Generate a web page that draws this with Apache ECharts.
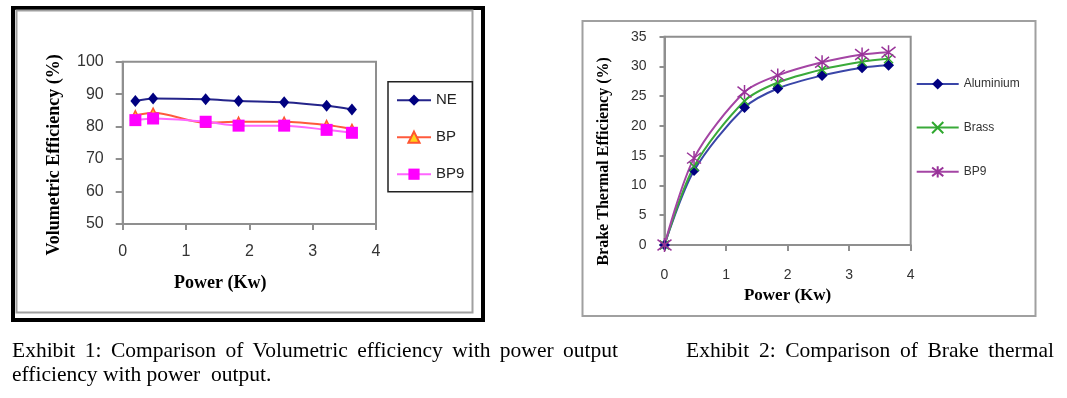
<!DOCTYPE html>
<html><head><meta charset="utf-8">
<script src="https://cdn.jsdelivr.net/npm/echarts@6/dist/echarts.min.js"></script>
<style>
html,body{margin:0;padding:0;background:#fff;}
#wrap{position:relative;width:1067px;height:398px;overflow:hidden;background:#fff;}
#chart{position:absolute;left:0;top:0;width:1067px;height:398px;}
.cap{position:absolute;font-family:"Liberation Serif","Times New Roman",serif;font-size:21.5px;line-height:22px;color:#000;white-space:nowrap;}
.just{text-align:justify;text-align-last:justify;white-space:normal;}
</style></head>
<body>
<div id="wrap">
<div id="chart"></div>
<div class="cap just" style="left:12px;top:339px;width:606px;">Exhibit 1: Comparison of Volumetric efficiency with power output</div>
<div class="cap" style="left:12px;top:363px;">efficiency with power&nbsp; output.</div>
<div class="cap just" style="left:686px;top:339px;width:368px;">Exhibit 2: Comparison of Brake thermal</div>
</div>
<script>
// ---- Exhibit 1 data: Volumetric efficiency (%) vs power (Kw)
const powerVol = [0.2, 0.48, 1.31, 1.83, 2.55, 3.22, 3.62];
const volNE  = [87.9, 88.7, 88.4, 87.9, 87.5, 86.4, 85.3];
const volBP  = [83.5, 84.3, 81.2, 81.5, 81.5, 80.5, 79.3];
const volBP9 = [82.0, 82.5, 81.5, 80.3, 80.3, 79.0, 78.1];
const volSeriesNames = ['NE', 'BP', 'BP9'];

// ---- Exhibit 2 data: Brake thermal efficiency (%) vs power (Kw)
const powerBte = [0, 0.48, 1.30, 1.84, 2.56, 3.21, 3.64];
const bteAluminium = [0, 12.5, 23.1, 26.3, 28.5, 29.8, 30.2];
const bteBrass     = [0, 13.2, 24.2, 27.3, 29.5, 30.8, 31.3];
const bteBP9       = [0, 14.6, 25.7, 28.5, 30.7, 32.0, 32.4];
const bteSeriesNames = ['Aluminium', 'Brass', 'BP9 '];

const zip = (xs, ys) => xs.map((x, i) => [x, ys[i]]);

const GRAY = '#8f8f8f';
const sans = '"Liberation Sans", Arial, sans-serif';
const serif = '"Liberation Serif", "Times New Roman", serif';

function xAxisCfg(gridIndex, labelSize, margin, nameGap, namePad, nameSize) {
  return {
    type: 'value', gridIndex, min: 0, max: 4, interval: 1,
    axisLine: {show: true, onZero: false, lineStyle: {color: GRAY, width: 2}},
    axisTick: {show: true, length: 6, lineStyle: {color: GRAY, width: 2}},
    splitLine: {show: false},
    axisLabel: {fontFamily: sans, fontSize: labelSize, color: '#333', margin},
    name: 'Power (Kw)', nameLocation: 'middle', nameGap,
    nameTextStyle: {fontFamily: serif, fontWeight: 'bold', fontSize: nameSize, color: '#000', padding: namePad}
  };
}
function yAxisCfg(gridIndex, min, max, interval, labelSize, margin, tickLen, name, nameGap, namePad, nameSize) {
  return {
    type: 'value', gridIndex, min, max, interval,
    axisLine: {show: true, onZero: false, lineStyle: {color: GRAY, width: 2}},
    axisTick: {show: true, length: tickLen, lineStyle: {color: GRAY, width: 2}},
    splitLine: {show: false},
    axisLabel: {fontFamily: sans, fontSize: labelSize, color: '#333', margin},
    name, nameLocation: 'middle', nameRotate: 90, nameGap,
    nameTextStyle: {fontFamily: serif, fontWeight: 'bold', fontSize: nameSize, color: '#000', padding: namePad}
  };
}

const xMark = 'path://M0,0L10,10M10,0L0,10';
const starMark = 'path://M0,0L10,10M10,0L0,10M5,-1.5L5,11.5';

const chart = echarts.init(document.getElementById('chart'), null, {renderer: 'canvas'});
chart.setOption({
  backgroundColor: '#fff',
  animation: false,
  grid: [
    {left: 122.7, top: 61.7, width: 253.3, height: 162.3, show: true, borderColor: GRAY, borderWidth: 2, containLabel: false},
    {left: 664.5, top: 36.7, width: 246.2, height: 208.3, show: true, borderColor: GRAY, borderWidth: 2, containLabel: false}
  ],
  xAxis: [
    xAxisCfg(0, 16, 20, 50, [0, 58, 0, 0], 18),
    xAxisCfg(1, 14, 23, 42, [0, 0, 0, 0], 17)
  ],
  yAxis: [
    yAxisCfg(0, 50, 100, 10, 16, 19, 7, 'Volumetric Efficiency (%)', 59, [0, 24, 0, 0], 18),
    yAxisCfg(1, 0, 35, 5, 14, 18, 5, 'Brake Thermal Efficiency (%)', 53, [0, 41, 0, 0], 16)
  ],
  legend: [
    {
      orient: 'vertical', left: 388, top: 81.7, padding: [11, 8, 10, 8],
      itemWidth: 34, itemHeight: 14, itemGap: 22,
      borderColor: '#222', borderWidth: 1.5, backgroundColor: '#fff',
      textStyle: {fontFamily: sans, fontSize: 15, color: '#222'},
      data: volSeriesNames
    },
    {
      orient: 'vertical', left: 915.7, top: 78, padding: 0,
      itemWidth: 42, itemHeight: 14, itemGap: 31,
      textStyle: {fontFamily: sans, fontSize: 12, color: '#333'},
      data: bteSeriesNames
    }
  ],
  series: [
    {name: volSeriesNames[0], type: 'line', xAxisIndex: 0, yAxisIndex: 0, data: zip(powerVol, volNE), smooth: 0.3,
     symbol: 'diamond', symbolSize: [10, 12], itemStyle: {color: '#000080'}, lineStyle: {color: '#24248a', width: 2}},
    {name: volSeriesNames[1], type: 'line', xAxisIndex: 0, yAxisIndex: 0, data: zip(powerVol, volBP), smooth: 0.3,
     symbol: 'triangle', symbolSize: 9, itemStyle: {color: '#ffd21a', borderColor: '#ff5530', borderWidth: 1.5}, lineStyle: {color: '#ff5a3c', width: 2}},
    {name: volSeriesNames[2], type: 'line', xAxisIndex: 0, yAxisIndex: 0, data: zip(powerVol, volBP9), smooth: 0.3,
     symbol: 'rect', symbolSize: 12, itemStyle: {color: '#ff00ff'}, lineStyle: {color: '#ff66ff', width: 2}},

    {name: bteSeriesNames[0], type: 'line', xAxisIndex: 1, yAxisIndex: 1, data: zip(powerBte, bteAluminium), smooth: 0.3,
     symbol: 'diamond', symbolSize: 11, itemStyle: {color: '#000080'}, lineStyle: {color: '#3a46a8', width: 2}},
    {name: bteSeriesNames[1], type: 'line', xAxisIndex: 1, yAxisIndex: 1, data: zip(powerBte, bteBrass), smooth: 0.3,
     symbol: xMark, symbolSize: 9, itemStyle: {color: '#2ea82e', borderColor: '#2ea82e', borderWidth: 1.5}, lineStyle: {color: '#3aaa3a', width: 2}},
    {name: bteSeriesNames[2], type: 'line', xAxisIndex: 1, yAxisIndex: 1, data: zip(powerBte, bteBP9), smooth: 0.3,
     symbol: starMark, symbolSize: 14, itemStyle: {color: '#993399', borderColor: '#993399', borderWidth: 1.5}, lineStyle: {color: '#a445a4', width: 2}}
  ],
  graphic: [
    {type: 'rect', shape: {x: 13, y: 8, width: 470, height: 312}, style: {fill: 'none', stroke: '#000', lineWidth: 4}, silent: true},
    {type: 'rect', shape: {x: 16.5, y: 10.5, width: 456, height: 302}, style: {fill: 'none', stroke: '#a0a0a0', lineWidth: 2}, silent: true},
    {type: 'rect', shape: {x: 582.5, y: 21, width: 453, height: 295}, style: {fill: 'none', stroke: '#a0a0a0', lineWidth: 2}, silent: true}
  ]
});
</script>
</body></html>
